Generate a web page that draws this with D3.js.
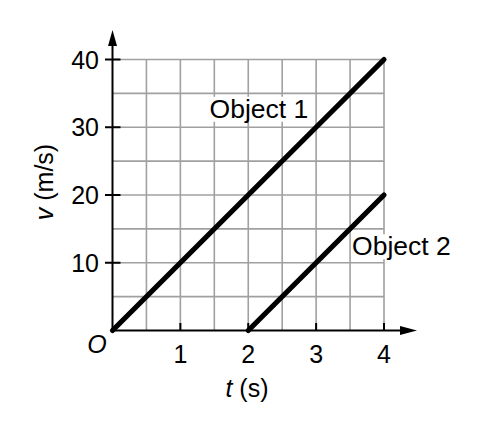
<!DOCTYPE html>
<html><head><meta charset="utf-8">
<script src="https://cdn.jsdelivr.net/npm/d3@7"></script>
<style>body{margin:0;background:#fff;} svg{display:block;font-family:"Liberation Sans",Arial,sans-serif;}</style>
</head><body>
<svg id="c" width="489" height="423"></svg>
<script>
const xTicks = [1, 2, 3, 4];
const yTicks = [10, 20, 30, 40];
const xGrid = [0.5, 1, 1.5, 2, 2.5, 3, 3.5, 4];
const yGrid = [5, 10, 15, 20, 25, 30, 35, 40];
const object1 = [[0, 0], [4, 40]];
const object2 = [[2, 0], [4, 20]];
const seriesLabels = [{text: "Object 1", t: 1.43, v: 31.4}, {text: "Object 2", t: 3.53, v: 11.1}];

const svg = d3.select("#c");
const x = d3.scaleLinear().domain([0, 4]).range([112.5, 384]);
const y = d3.scaleLinear().domain([0, 40]).range([330.5, 59.5]);

// grid
svg.append("g").selectAll("line").data(xGrid).join("line")
  .attr("x1", d => x(d)).attr("x2", d => x(d)).attr("y1", y(0)).attr("y2", y(40))
  .attr("stroke", "#a0a0a0").attr("stroke-width", 1.6);
svg.append("g").selectAll("line").data(yGrid).join("line")
  .attr("y1", d => y(d)).attr("y2", d => y(d)).attr("x1", x(0)).attr("x2", x(4))
  .attr("stroke", "#a0a0a0").attr("stroke-width", 1.6);

// axes
const ax = svg.append("g").attr("stroke", "#000").attr("stroke-width", 2);
ax.append("line").attr("x1", x(0)).attr("x2", 402).attr("y1", y(0)).attr("y2", y(0));
ax.append("line").attr("x1", x(0)).attr("x2", x(0)).attr("y1", y(0)).attr("y2", 44);
svg.append("path").attr("d", `M417,${y(0)} L400,${y(0)-4.5} L400,${y(0)+4.5} Z`).attr("fill", "#000");
svg.append("path").attr("d", `M${x(0)},30 L${x(0)-4.5},46 L${x(0)+4.5},46 Z`).attr("fill", "#000");

// ticks
svg.append("g").selectAll("line").data(xTicks).join("line")
  .attr("x1", d => x(d)).attr("x2", d => x(d)).attr("y1", y(0)).attr("y2", y(0) - 7.5)
  .attr("stroke", "#000").attr("stroke-width", 2);
svg.append("g").selectAll("line").data(yTicks).join("line")
  .attr("y1", d => y(d)).attr("y2", d => y(d)).attr("x1", x(0) - 7.5).attr("x2", x(0) + 8)
  .attr("stroke", "#000").attr("stroke-width", 2);

// tick labels
svg.append("g").selectAll("text").data(xTicks).join("text")
  .attr("x", d => x(d)).attr("y", 363).attr("text-anchor", "middle")
  .attr("font-size", 25).text(d => d);
svg.append("g").selectAll("text").data(yTicks).join("text")
  .attr("x", 99).attr("y", d => y(d) + 9).attr("text-anchor", "end")
  .attr("font-size", 25).text(d => d);
svg.append("text").attr("x", 97).attr("y", 353).attr("text-anchor", "middle")
  .attr("font-size", 25).attr("font-style", "italic").text("O");

// axis titles
const xt = svg.append("text").attr("x", 247).attr("y", 397).attr("text-anchor", "middle").attr("font-size", 25);
xt.append("tspan").attr("font-style", "italic").text("t");
xt.append("tspan").text(" (s)");
const yt = svg.append("text").attr("transform", "translate(53,182) rotate(-90)").attr("text-anchor", "middle").attr("font-size", 25);
yt.append("tspan").attr("font-style", "italic").text("v");
yt.append("tspan").text(" (m/s)");

// lines
const line = d3.line().x(d => x(d[0])).y(d => y(d[1]));
[object1, object2].forEach(s => {
  svg.append("path").datum(s).attr("d", line).attr("fill", "none")
    .attr("stroke", "#000").attr("stroke-width", 5.2).attr("stroke-linecap", "round");
});

// labels with white background
seriesLabels.forEach(l => {
  const g = svg.append("g");
  const t = g.append("text").attr("x", x(l.t)).attr("y", y(l.v)).attr("font-size", 26.5).text(l.text);
  const b = t.node().getBBox();
  g.insert("rect", "text").attr("x", b.x - 1).attr("y", b.y + 3).attr("width", b.width + 2).attr("height", b.height - 5).attr("fill", "#fff");
});
</script>
</body></html>
